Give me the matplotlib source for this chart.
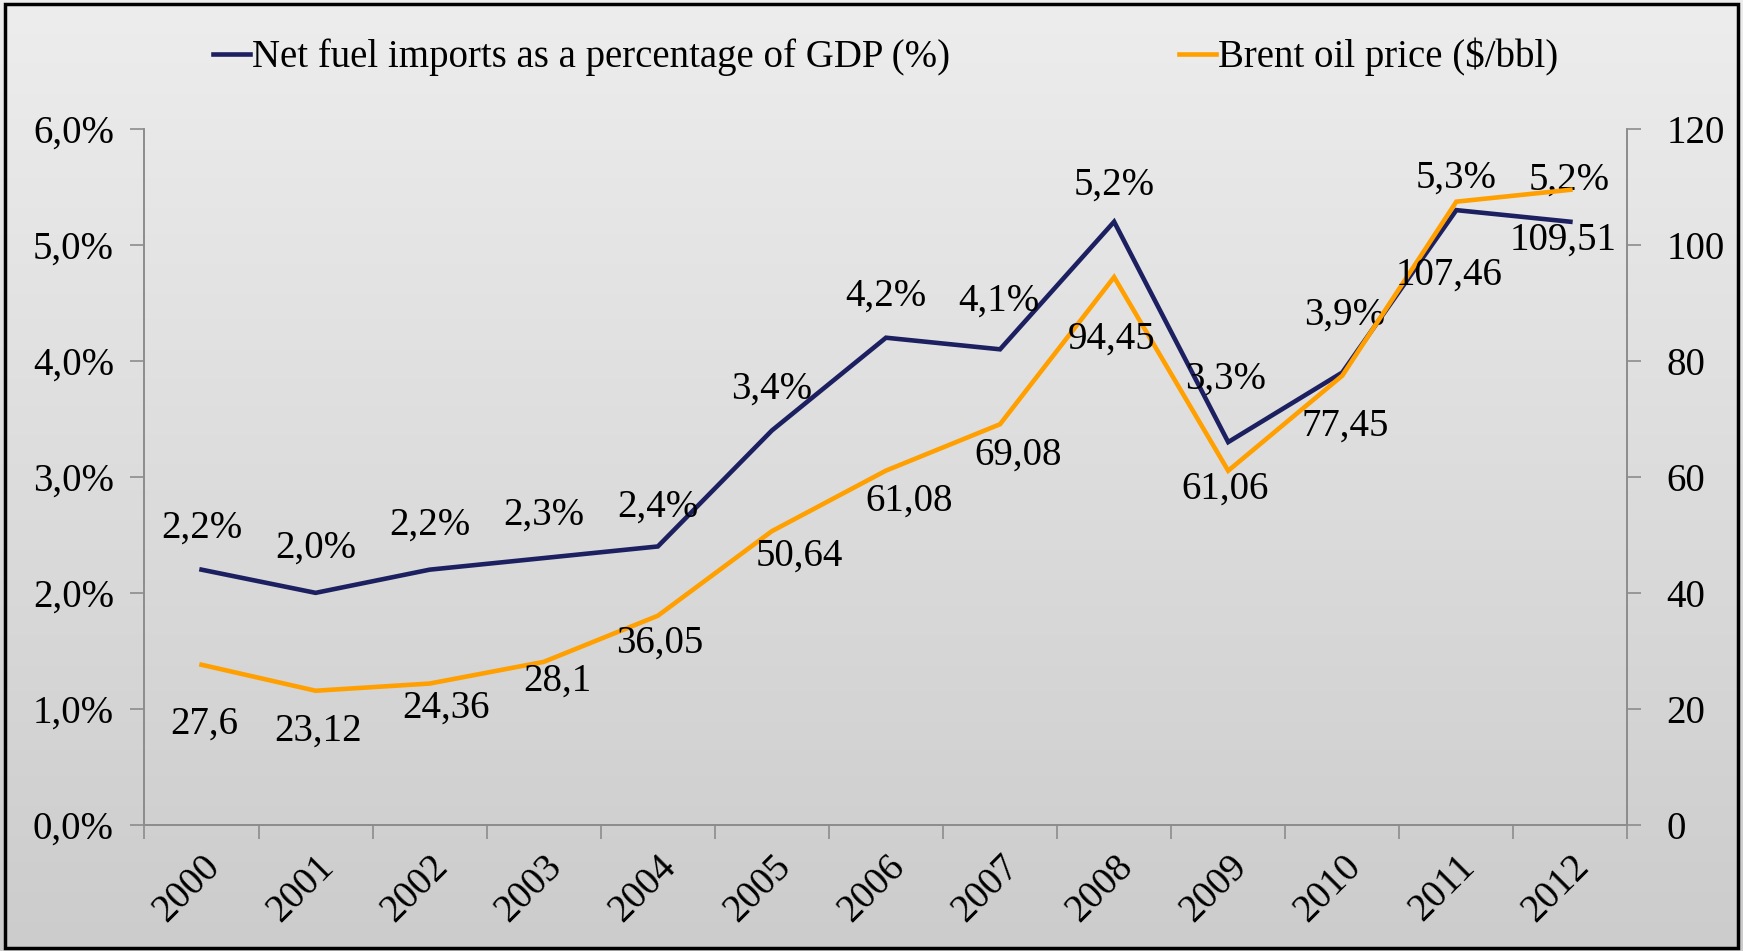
import numpy as np
import matplotlib
matplotlib.use("Agg")
import matplotlib.pyplot as plt
from matplotlib.patches import Rectangle

# Series data
years = ["2000", "2001", "2002", "2003", "2004", "2005", "2006",
         "2007", "2008", "2009", "2010", "2011", "2012"]
fuel_imports_pct = [2.2, 2.0, 2.2, 2.3, 2.4, 3.4, 4.2, 4.1, 5.2, 3.3, 3.9, 5.3, 5.2]
brent_price = [27.6, 23.12, 24.36, 28.1, 36.05, 50.64, 61.08, 69.08,
               94.45, 61.06, 77.45, 107.46, 109.51]

# Label offsets in points (dx, dy) for each data label
fuel_dx = [0, 0, 0, 0, 0, 0, 0, -1, 0, -2, 2, 0, -1]
fuel_dy = [30, 32, 32, 31, 28, 30, 30, 35, 26, 45, 41, 23, 30]
brent_dx = [2, 2, 12, 10, 1, 20, 17, 13, -2, -2, 2, -5, -5]
brent_dy = [-43, -29, -18, -14, -20, -18, -22, -22, -45, -13, -36, -53, -36]

NAVY = "#1d2060"
ORANGE = "#ffa000"
AXIS_GRAY = "#8c8c8c"
FONT = "Liberation Serif"
FS = 28

plt.rcParams["font.family"] = [FONT, "DejaVu Serif"]

fig = plt.figure(figsize=(17.43, 9.51), dpi=100)

# Soft vertical gradient behind everything
bg = fig.add_axes([0, 0, 1, 1], zorder=-10)
grad = np.linspace(0.93, 0.80, 256).reshape(-1, 1)
bg.imshow(np.dstack([grad, grad, grad]), aspect="auto", extent=[0, 1, 0, 1])
bg.set_axis_off()
fig.patches.append(Rectangle((0.003, 0.003), 0.994, 0.993, transform=fig.transFigure,
                             fill=False, edgecolor="black", linewidth=2.5))

ax = fig.add_axes([0.0829, 0.1327, 0.8508, 0.7317])
ax.patch.set_alpha(0)
ax2 = ax.twinx()
ax2.patch.set_alpha(0)

x = np.arange(len(years))
l1, = ax.plot(x, fuel_imports_pct, color=NAVY, lw=3.3, solid_joinstyle="miter",
              label="Net fuel imports as a percentage of GDP (%)", zorder=3)
l2, = ax2.plot(x, brent_price, color=ORANGE, lw=3.3, solid_joinstyle="miter",
               label="Brent oil price ($/bbl)", zorder=2)

ax.set_xlim(-0.5, len(years) - 0.5)
ax.set_ylim(0, 6)
ax2.set_ylim(0, 120)
ax.set_yticks(np.arange(0, 7, 1))
ax.set_yticklabels([f"{v:.1f}%".replace(".", ",") for v in range(7)])
ax2.set_yticks(np.arange(0, 121, 20))

# category boundaries carry the tick marks, year names sit between them
ax.set_xticks(np.arange(-0.5, len(years), 1))
ax.set_xticklabels([])
ax.set_xticks(x, minor=True)
ax.set_xticklabels(years, minor=True, rotation=45, ha="right", va="top",
                   rotation_mode="anchor", fontsize=FS)
ax.tick_params(axis="x", which="minor", length=0, pad=17)
ax.tick_params(axis="x", which="major", length=10, color=AXIS_GRAY, width=1.2)
ax.tick_params(axis="y", length=10, color=AXIS_GRAY, width=1.2, labelsize=FS, pad=12)
ax2.tick_params(axis="y", length=10, color=AXIS_GRAY, width=1.2, labelsize=FS, pad=18)

for a in (ax, ax2):
    a.spines["top"].set_visible(False)
    for side in ("left", "right", "bottom"):
        a.spines[side].set_color(AXIS_GRAY)
        a.spines[side].set_linewidth(1.2)

# Data labels
for i, v in enumerate(fuel_imports_pct):
    ax.annotate(f"{v:.1f}%".replace(".", ","), (x[i], v),
                xytext=(fuel_dx[i], fuel_dy[i]), textcoords="offset points",
                ha="center", va="center", fontsize=FS, zorder=5)
for i, v in enumerate(brent_price):
    txt = f"{v:g}".replace(".", ",")
    ax2.annotate(txt, (x[i], v),
                 xytext=(brent_dx[i], brent_dy[i]), textcoords="offset points",
                 ha="center", va="center", fontsize=FS, zorder=5)

fig.legend(handles=[l1, l2], loc="center", bbox_to_anchor=(0.508, 0.940), ncol=2,
           frameon=False, fontsize=FS, handlelength=0.95, handletextpad=0.05,
           columnspacing=5.9)

fig.savefig("out.png", dpi=100)
